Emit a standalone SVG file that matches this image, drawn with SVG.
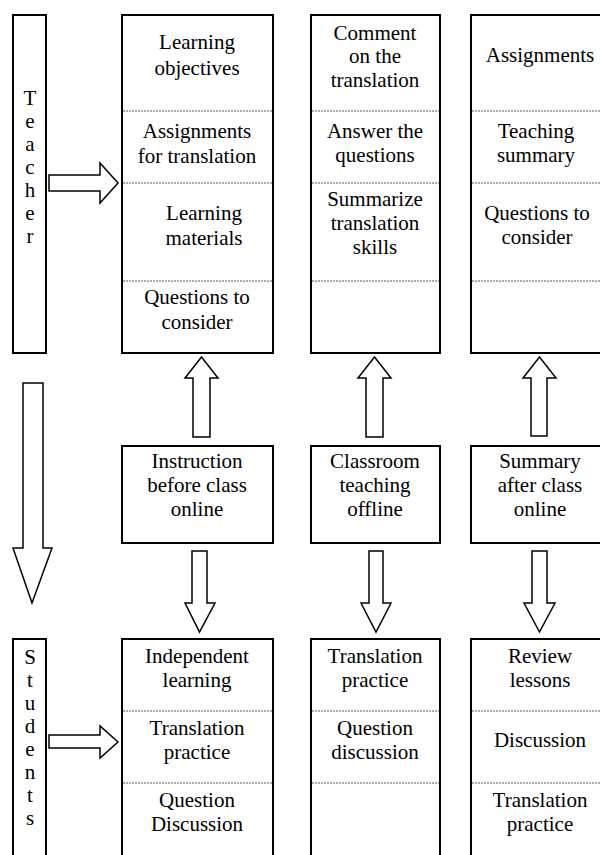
<svg xmlns="http://www.w3.org/2000/svg" width="600" height="855" viewBox="0 0 600 855">
<style>
.box{fill:#fff;stroke:#000;stroke-width:2}
.sep{stroke:#555;stroke-width:1;stroke-dasharray:2 1}
.arr{fill:#fff;stroke:#000;stroke-width:1.5;stroke-linejoin:miter}
text{font-family:"Liberation Serif","Times New Roman","DejaVu Serif",serif;font-size:21px;fill:#000;text-anchor:middle}
</style>
<rect width="600" height="855" fill="#fff"/>
<g id="teacher">
<rect class="box" x="13" y="15" width="33" height="338"/>
<text x="30" y="105">T</text><text x="30" y="128">e</text><text x="30" y="151">a</text><text x="30" y="174">c</text><text x="30" y="197">h</text><text x="30" y="220">e</text><text x="30" y="243">r</text>
</g>
<g id="students">
<rect class="box" x="13" y="639" width="33" height="230"/>
<text x="30" y="664">S</text><text x="30" y="687">t</text><text x="30" y="710">u</text><text x="30" y="733">d</text><text x="30" y="756">e</text><text x="30" y="779">n</text><text x="30" y="802">t</text><text x="30" y="825">s</text>
</g>
<g id="t1">
<rect class="box" x="122" y="15" width="151" height="338"/>
<line class="sep" x1="123" y1="111" x2="272" y2="111"/>
<line class="sep" x1="123" y1="183" x2="272" y2="183"/>
<line class="sep" x1="123" y1="281" x2="272" y2="281"/>
<text x="197" y="49">Learning</text><text x="197" y="75">objectives</text>
<text x="197" y="138">Assignments</text><text x="197" y="163">for translation</text>
<text x="204" y="220">Learning</text><text x="204" y="245">materials</text>
<text x="197" y="304">Questions to</text><text x="197" y="329">consider</text>
</g>
<g id="t2">
<rect class="box" x="311" y="15" width="129" height="338"/>
<line class="sep" x1="312" y1="111" x2="439" y2="111"/>
<line class="sep" x1="312" y1="183" x2="439" y2="183"/>
<line class="sep" x1="312" y1="281" x2="439" y2="281"/>
<text x="375" y="40">Comment</text><text x="375" y="63">on the</text><text x="375" y="87">translation</text>
<text x="375" y="138">Answer the</text><text x="375" y="162">questions</text>
<text x="375" y="206">Summarize</text><text x="375" y="230">translation</text><text x="375" y="254">skills</text>
</g>
<g id="t3">
<rect class="box" x="471" y="15" width="150" height="338"/>
<line class="sep" x1="472" y1="111" x2="600" y2="111"/>
<line class="sep" x1="472" y1="183" x2="600" y2="183"/>
<line class="sep" x1="472" y1="281" x2="600" y2="281"/>
<text x="540" y="62">Assignments</text>
<text x="536" y="138">Teaching</text><text x="536" y="162">summary</text>
<text x="537" y="220">Questions to</text><text x="537" y="244">consider</text>
</g>
<g id="m1">
<rect class="box" x="122" y="446" width="151" height="97"/>
<text x="197" y="468">Instruction</text><text x="197" y="492">before class</text><text x="197" y="516">online</text>
</g>
<g id="m2">
<rect class="box" x="311" y="446" width="129" height="97"/>
<text x="375" y="468">Classroom</text><text x="375" y="492">teaching</text><text x="375" y="516">offline</text>
</g>
<g id="m3">
<rect class="box" x="471" y="446" width="150" height="97"/>
<text x="540" y="468">Summary</text><text x="540" y="492">after class</text><text x="540" y="516">online</text>
</g>
<g id="s1">
<rect class="box" x="122" y="639" width="151" height="230"/>
<line class="sep" x1="123" y1="711" x2="272" y2="711"/>
<line class="sep" x1="123" y1="783" x2="272" y2="783"/>
<text x="197" y="663">Independent</text><text x="197" y="687">learning</text>
<text x="197" y="735">Translation</text><text x="197" y="759">practice</text>
<text x="197" y="807">Question</text><text x="197" y="831">Discussion</text>
</g>
<g id="s2">
<rect class="box" x="311" y="639" width="129" height="230"/>
<line class="sep" x1="312" y1="711" x2="439" y2="711"/>
<line class="sep" x1="312" y1="783" x2="439" y2="783"/>
<text x="375" y="663">Translation</text><text x="375" y="687">practice</text>
<text x="375" y="735">Question</text><text x="375" y="759">discussion</text>
</g>
<g id="s3">
<rect class="box" x="471" y="639" width="150" height="230"/>
<line class="sep" x1="472" y1="711" x2="600" y2="711"/>
<line class="sep" x1="472" y1="783" x2="600" y2="783"/>
<text x="540" y="663">Review</text><text x="540" y="687">lessons</text>
<text x="540" y="747">Discussion</text>
<text x="540" y="807">Translation</text><text x="540" y="831">practice</text>
</g>
<g id="connectors">
<path class="arr" d="M49,175 H100 V163 L118,183 L100,203 V191 H49 Z"/>
<path class="arr" d="M49,735 H100 V726 L118,742 L100,758 V748 H49 Z"/>
<path class="arr" d="M23,383 H43 V548 H52 L32,603 L13,548 H23 Z"/>
<path class="arr" d="M193,437 V378 H185 L201.5,357 L218,378 H210 V437 Z"/>
<path class="arr" d="M366,437 V378 H358 L374.5,357 L391,378 H383 V437 Z"/>
<path class="arr" d="M531,436 V378 H523 L539.5,357 L556,378 H547 V436 Z"/>
<path class="arr" d="M192,551 H207 V603 H215 L199.5,632 L185,603 H192 Z"/>
<path class="arr" d="M369,551 H383 V603 H391 L376,632 L361,603 H369 Z"/>
<path class="arr" d="M532,551 H547 V603 H555 L539.5,632 L524,603 H532 Z"/>
</g>
</svg>
